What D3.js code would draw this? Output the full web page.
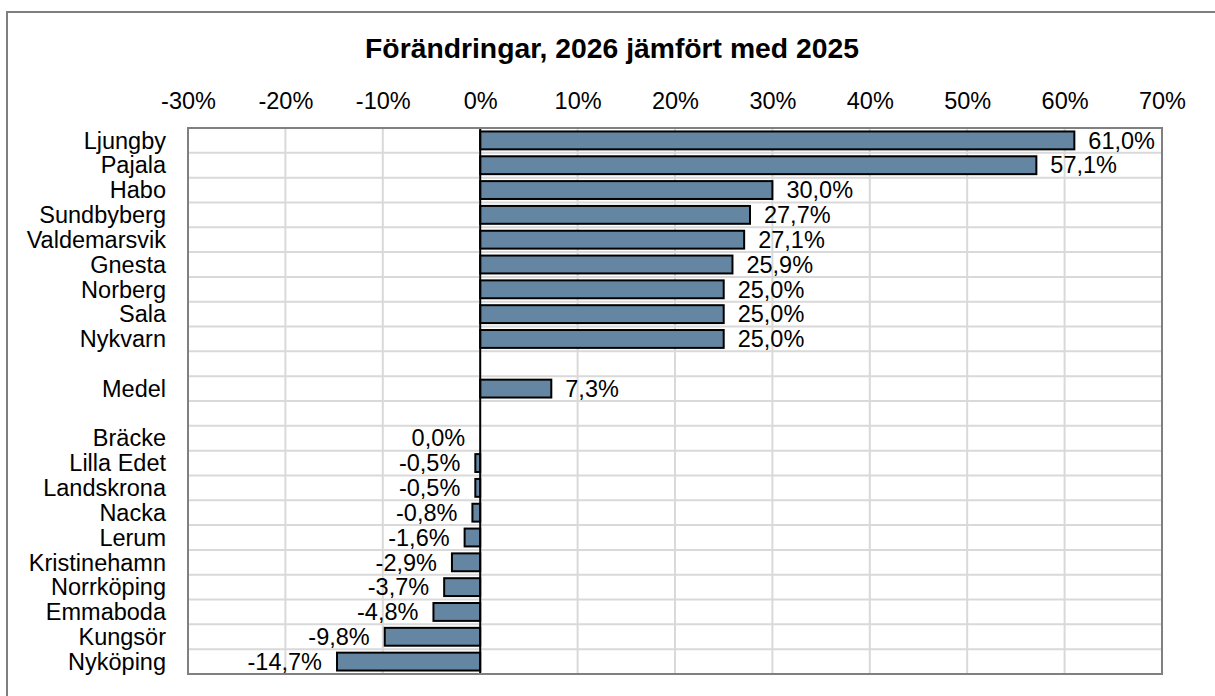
<!DOCTYPE html>
<html>
<head>
<meta charset="utf-8">
<title>Förändringar, 2026 jämfört med 2025</title>
<script src="https://d3js.org/d3.v7.min.js"></script>
<style>
  body { margin: 0; background: #fff; }
  text { font-family: "Liberation Sans", Arial, sans-serif; fill: #000; }
</style>
</head>
<body>
<div id="chart"></div>
<script>
// kommuner (tomma rader som mellanrum)
var categories = ["Ljungby", "Pajala", "Habo", "Sundbyberg", "Valdemarsvik", "Gnesta", "Norberg", "Sala", "Nykvarn",
                  "", "Medel", "",
                  "Bräcke", "Lilla Edet", "Landskrona", "Nacka", "Lerum", "Kristinehamn", "Norrköping", "Emmaboda", "Kungsör", "Nyköping"];
var values = [61.0, 57.1, 30.0, 27.7, 27.1, 25.9, 25.0, 25.0, 25.0,
              null, 7.3, null,
              0.0, -0.5, -0.5, -0.8, -1.6, -2.9, -3.7, -4.8, -9.8, -14.7];
var tickValues = [-30, -20, -10, 0, 10, 20, 30, 40, 50, 60, 70];

var width = 1215, height = 696;
var plot = { left: 188, right: 1162, top: 128, bottom: 674 };

var rows = categories.map(function(c, i) { return { key: "r" + i, name: c, value: values[i] }; });

var svg = d3.select("#chart").append("svg")
    .attr("width", width)
    .attr("height", height);

// yttre ram
svg.append("rect")
    .attr("x", 7).attr("y", 12)
    .attr("width", width + 10).attr("height", height + 10)
    .attr("fill", "#fff")
    .attr("stroke", "#7f7f7f")
    .attr("stroke-width", 2);

var x = d3.scaleLinear().domain([-30, 70]).range([plot.left, plot.right]);
var y = d3.scaleBand().domain(rows.map(function(d) { return d.key; }))
    .range([plot.top, plot.bottom])
    .paddingInner(0.28).paddingOuter(0.14);
var step = y.step();

// titel
svg.append("text")
    .attr("x", 612).attr("y", 58)
    .attr("text-anchor", "middle")
    .style("font-size", "28.3px")
    .style("font-weight", "bold")
    .text("Förändringar, 2026 jämfört med 2025");

// rutnät
var grid = svg.append("g");
grid.selectAll(".v").data(tickValues).enter().append("line")
    .attr("x1", function(d) { return x(d); }).attr("x2", function(d) { return x(d); })
    .attr("y1", plot.top).attr("y2", plot.bottom)
    .attr("stroke", "#d9d9d9").attr("stroke-width", 2);
grid.selectAll(".h").data(d3.range(rows.length + 1)).enter().append("line")
    .attr("x1", plot.left).attr("x2", plot.right)
    .attr("y1", function(i) { return plot.top + i * step; })
    .attr("y2", function(i) { return plot.top + i * step; })
    .attr("stroke", "#d9d9d9").attr("stroke-width", 2);

// x-axel överst
var xAxis = d3.axisTop(x).tickValues(tickValues).tickSize(0).tickPadding(0)
    .tickFormat(function(d) { return d + "%"; });
var ax = svg.append("g")
    .attr("transform", "translate(0," + 109 + ")")
    .call(xAxis);
ax.select(".domain").remove();
ax.selectAll("text").style("font-size", "23.5px").style("font-family", "'Liberation Sans', Arial, sans-serif").attr("fill", "#000");

// kategorietiketter
svg.selectAll(".cat").data(rows).enter().append("text")
    .attr("x", 166)
    .attr("y", function(d) { return y(d.key) + y.bandwidth() / 2; })
    .attr("dy", "0.35em")
    .attr("text-anchor", "end")
    .style("font-size", "23.5px")
    .text(function(d) { return d.name; });

// staplar
var data = rows.filter(function(d) { return d.value !== null; });
svg.selectAll(".bar").data(data).enter().append("rect")
    .attr("x", function(d) { return x(Math.min(0, d.value)); })
    .attr("y", function(d) { return y(d.key); })
    .attr("width", function(d) { return Math.abs(x(d.value) - x(0)); })
    .attr("height", y.bandwidth())
    .attr("fill", "#6586a3")
    .attr("stroke", "#000")
    .attr("stroke-width", 2);

// nollinje
svg.append("line")
    .attr("x1", x(0)).attr("x2", x(0))
    .attr("y1", plot.top).attr("y2", plot.bottom)
    .attr("stroke", "#000").attr("stroke-width", 2);

// ram runt ritytan
svg.append("rect")
    .attr("x", plot.left).attr("y", plot.top)
    .attr("width", plot.right - plot.left).attr("height", plot.bottom - plot.top)
    .attr("fill", "none")
    .attr("stroke", "#808080").attr("stroke-width", 2);

// värdeetiketter
var fmt = function(v) { return v.toFixed(1).replace(".", ",") + "%"; };
svg.selectAll(".val").data(data).enter().append("text")
    .attr("x", function(d) { return d.value > 0 ? x(d.value) + 14 : x(d.value) - 15; })
    .attr("y", function(d) { return y(d.key) + y.bandwidth() / 2; })
    .attr("dy", "0.35em")
    .attr("text-anchor", function(d) { return d.value > 0 ? "start" : "end"; })
    .style("font-size", "23.5px")
    .text(function(d) { return fmt(d.value); });
</script>
</body>
</html>
